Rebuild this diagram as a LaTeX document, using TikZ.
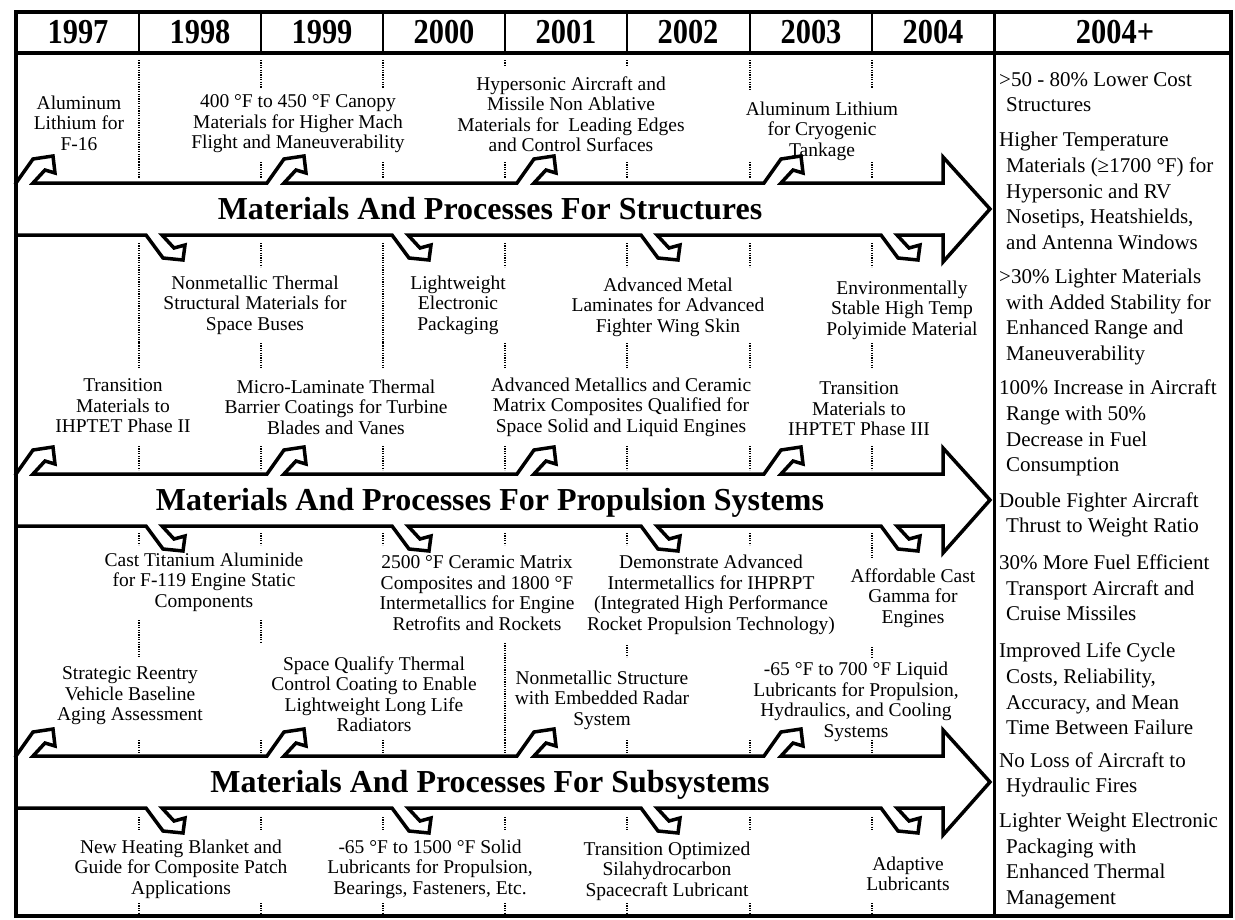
\documentclass[tikz,border=0pt]{standalone}
\usepackage{fontspec}
\setmainfont{Liberation Serif}
\usepackage{graphicx}
\newcommand\upflag{--++(17,-24) --++(20,-3) --++(2,17) --++(-10,-3) --++(-12,13)}
\newcommand\downflag{--++(17,23) --++(20,2) --++(2,-15) --++(-11,3) --++(-12,-13)}
\newcommand\hind{\hspace*{7pt}}
\begin{document}
\begin{tikzpicture}[x=1pt,y=-1pt,
	framing/.style={line width=4pt},
	shaft/.style={line width=3.5pt,line join=miter,line cap=rect},
	guide/.style={line width=1.2pt,dash pattern=on 1.2pt off 1.2pt},
	yearlbl/.style={anchor=base,inner sep=0pt,font=\fontsize{35}{35}\selectfont\bfseries},
	note/.style={align=center,inner sep=0pt,font=\fontsize{19.5}{20.5}\selectfont},
	goal/.style={anchor=west,align=left,inner sep=0pt,font=\fontsize{21}{25.7}\selectfont},
	bandtitle/.style={anchor=base,inner sep=0pt,font=\fontsize{32}{32}\selectfont\bfseries}]
	\fill[white] (0,0) rectangle (1235,919);
	\useasboundingbox (0,0) rectangle (1235,919);
	\draw[framing] (16,12) rectangle (1231,916);
	\draw[framing] (16,53) -- (1231,53);
	\draw[line width=3pt] (994,12) -- (994,916);
	\foreach \dx in {139,261,383,505,627,750,872}
		\draw[line width=2.5pt] (\dx,12) -- (\dx,53);
	\foreach \yr/\cx in {1997/78,1998/200,1999/322,2000/444,2001/566,2002/688,2003/811,2004/933}
		\node[yearlbl] (y\yr) at (\cx,43) {\scalebox{0.87}[1]{\yr}};
	\node[yearlbl] (y2004plus) at (1115,43) {\scalebox{0.87}[1]{2004+}};

	\foreach \dx in {139,261,383,505,627,750,872}
		\foreach \ya/\yb in {162/178,243/267,343/368,446/470,533/545,740/753,817/830,903/913}
			\draw[guide] (\dx,\ya) -- (\dx,\yb);
	\foreach \dx/\ya/\yb in {139/60/162,261/60/88,383/60/88,505/60/67,627/60/67,750/60/90,872/60/88,
		139/267/343,383/267/343,139/620/657,261/620/643,505/643/740,627/645/657,872/545/558,872/647/657}
		\draw[guide] (\dx,\ya) -- (\dx,\yb);

	\foreach \yc/\topic in {209/Structures,500/Propulsion Systems,782/Subsystems}{
		\draw[shaft] (16,\yc-26) \upflag -- (267,\yc-26) \upflag -- (517,\yc-26) \upflag
			-- (764,\yc-26) \upflag -- (943,\yc-26) -- (943,\yc-52) -- (990,\yc)
			-- (943,\yc+53) -- (943,\yc+26);
		\draw[shaft] (16,\yc+26) -- (146,\yc+26) \downflag -- (392,\yc+26) \downflag
			-- (641,\yc+26) \downflag -- (881,\yc+26) \downflag -- (943,\yc+26);
		\node[bandtitle] (band\yc) at (490,\yc+10) {Materials And Processes For \topic};
	}

	\node[note] (alli) at (79,123) {Aluminum\\Lithium for\\F-16};
	\node[note] (canopy) at (298,124) {400 °F to 450 °F Canopy\\Materials for Higher Mach\\Flight and Maneuverability};
	\node[note] (hyper) at (571,114) {Hypersonic Aircraft and\\Missile Non Ablative\\Materials for~~Leading Edges\\and Control Surfaces};
	\node[note] (tank) at (822,131) {Aluminum Lithium\\for Cryogenic\\Tankage};
	\node[note] (buses) at (255,305) {Nonmetallic Thermal\\Structural Materials for\\Space Buses};
	\node[note] (packg) at (458,305) {Lightweight\\Electronic\\Packaging};
	\node[note] (wing) at (668,307) {Advanced Metal\\Laminates for Advanced\\Fighter Wing Skin};
	\node[note] (polyi) at (902,310) {Environmentally\\Stable High Temp\\Polyimide Material};
	\node[note] (ihp2) at (123,406) {Transition\\Materials to\\IHPTET Phase II};
	\node[note] (tbc) at (336,407) {Micro-Laminate Thermal\\Barrier Coatings for Turbine\\Blades and Vanes};
	\node[note] (cmc) at (621,407) {Advanced Metallics and Ceramic\\Matrix Composites Qualified for\\Space Solid and Liquid Engines};
	\node[note] (ihp3) at (859,409) {Transition\\Materials to\\IHPTET Phase III};
	\node[note] (ti) at (204,582) {Cast Titanium Aluminide\\for F-119 Engine Static\\Components};
	\node[note] (cmc2) at (477,593) {2500 °F Ceramic Matrix\\Composites and 1800 °F\\Intermetallics for Engine\\Retrofits and Rockets};
	\node[note] (ihprpt) at (711,595) {Demonstrate Advanced\\Intermetallics for IHPRPT\\(Integrated High Performance\\Rocket Propulsion Technology)};
	\node[note] (gamma) at (913,598) {Affordable Cast\\Gamma for\\Engines};
	\node[note] (aging) at (130,696) {Strategic Reentry\\Vehicle Baseline\\Aging Assessment};
	\node[note] (radtr) at (374,694) {Space Qualify Thermal\\Control Coating to Enable\\Lightweight Long Life\\Radiators};
	\node[note] (radar) at (602,700) {Nonmetallic Structure\\with Embedded Radar\\System};
	\node[note] (liquid) at (856,702) {-65 °F to 700 °F Liquid\\Lubricants for Propulsion,\\Hydraulics, and Cooling\\Systems};
	\node[note] (blanket) at (181,869) {New Heating Blanket and\\Guide for Composite Patch\\Applications};
	\node[note] (solid) at (430,869) {-65 °F to 1500 °F Solid\\Lubricants for Propulsion,\\Bearings, Fasteners, Etc.};
	\node[note] (silah) at (667,871) {Transition Optimized\\Silahydrocarbon\\Spacecraft Lubricant};
	\node[note] (adapt) at (908,874) {Adaptive\\Lubricants};

	\node[goal] (g1) at (999,92) {>50 - 80\% Lower Cost\\\hind Structures};
	\node[goal] (g2) at (999,191) {Higher Temperature\\\hind Materials (≥1700 °F) for\\\hind Hypersonic and RV\\\hind Nosetips, Heatshields,\\\hind and Antenna Windows};
	\node[goal] (g3) at (999,317) {>30\% Lighter Materials\\\hind with Added Stability for\\\hind Enhanced Range and\\\hind Maneuverability};
	\node[goal] (g4) at (999,428) {100\% Increase in Aircraft\\\hind Range with 50\%\\\hind Decrease in Fuel\\\hind Consumption};
	\node[goal] (g5) at (999,515) {Double Fighter Aircraft\\\hind Thrust to Weight Ratio};
	\node[goal] (g6) at (999,588) {30\% More Fuel Efficient\\\hind Transport Aircraft and\\\hind Cruise Missiles};
	\node[goal] (g7) at (999,689) {Improved Life Cycle\\\hind Costs, Reliability,\\\hind Accuracy, and Mean\\\hind Time Between Failure};
	\node[goal] (g8) at (999,775) {No Loss of Aircraft to\\\hind Hydraulic Fires};
	\node[goal] (g9) at (999,861) {Lighter Weight Electronic\\\hind Packaging with\\\hind Enhanced Thermal\\\hind Management};
\end{tikzpicture}
\end{document}
